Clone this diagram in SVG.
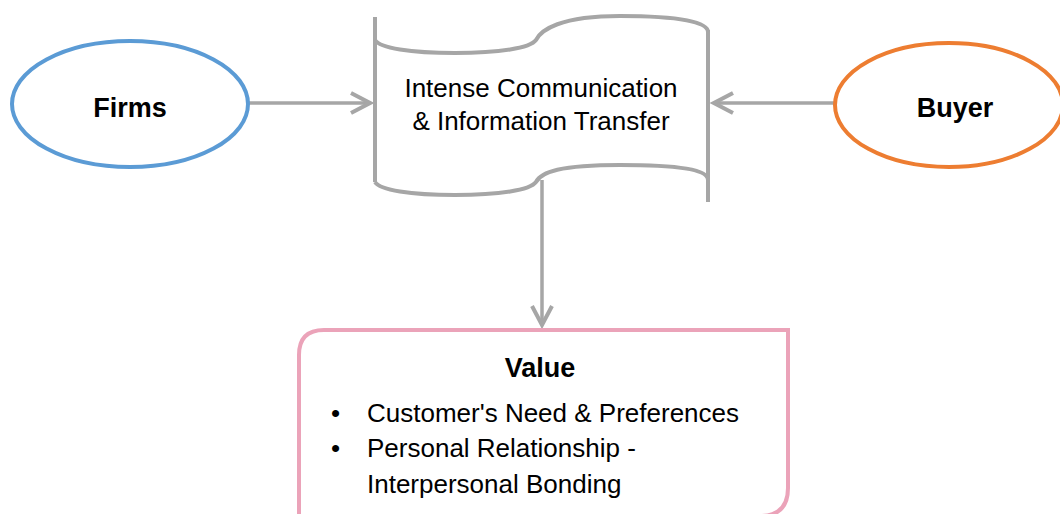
<svg xmlns="http://www.w3.org/2000/svg" width="1060" height="514" viewBox="0 0 1060 514">
<style>
.t{font-family:"Liberation Sans",Arial,sans-serif;font-size:26px;fill:#000}
.b{font-family:"Liberation Sans",Arial,sans-serif;font-size:27px;font-weight:bold;fill:#000}
.g{fill:none;stroke:#A6A6A6;stroke-width:4}
.c{fill:none;stroke:#A6A6A6;stroke-width:3.5}
</style>
<defs>
<marker id="arr" viewBox="-24 -14 28 28" refX="0" refY="0" markerWidth="28" markerHeight="28" markerUnits="userSpaceOnUse" orient="auto">
<path d="M-19,-10 L0,0 L-19,10" fill="none" stroke="#A6A6A6" stroke-width="4"/>
</marker>
</defs>
<rect width="1060" height="514" fill="#fff"/>
<g id="connectors">
<line class="c" x1="249" y1="103" x2="370" y2="103" marker-end="url(#arr)"/>
<line class="c" x1="835" y1="103" x2="714" y2="103" marker-end="url(#arr)"/>
<line class="c" x1="542" y1="180" x2="542" y2="325" marker-end="url(#arr)"/>
</g>
<g id="firms">
<ellipse cx="130" cy="104" rx="118" ry="63" fill="#fff" stroke="#5B9BD5" stroke-width="4"/>
<text class="b" x="130" y="117" text-anchor="middle">Firms</text>
</g>
<g id="buyer">
<ellipse cx="949" cy="105" rx="114" ry="62" fill="#fff" stroke="#ED7D31" stroke-width="4"/>
<text class="b" x="955" y="117" text-anchor="middle">Buyer</text>
</g>
<g id="communication">
<path class="g" d="M375,17 L375,182"/>
<path class="g" d="M708,30 L708,202"/>
<path class="g" d="M375,40 C380,48 410,53 455,53 C500,53 530,48 536,40 C541,30 560,16 620,16 C680,16 708,22 708,32"/>
<path class="g" d="M375,182 C380,190 410,195 455,195 C500,195 530,190 536,182 C541,172 560,165 620,165 C680,165 708,170 708,180"/>
<text class="t" x="541" y="97" text-anchor="middle">Intense Communication</text>
<text class="t" x="541" y="130" text-anchor="middle">&amp; Information Transfer</text>
</g>
<g id="value">
<path d="M299,530 L299,355 Q299,330 324,330 L788,330 L788,488 Q788,516 760,516 L299,516" fill="#fff" stroke="#EBA3B9" stroke-width="4"/>
<text class="b" x="540" y="377" text-anchor="middle">Value</text>
<text class="t" x="331" y="422">•</text>
<text class="t" x="367" y="422">Customer's Need &amp; Preferences</text>
<text class="t" x="331" y="457">•</text>
<text class="t" x="367" y="457">Personal Relationship -</text>
<text class="t" x="367" y="493">Interpersonal Bonding</text>
</g>
</svg>
